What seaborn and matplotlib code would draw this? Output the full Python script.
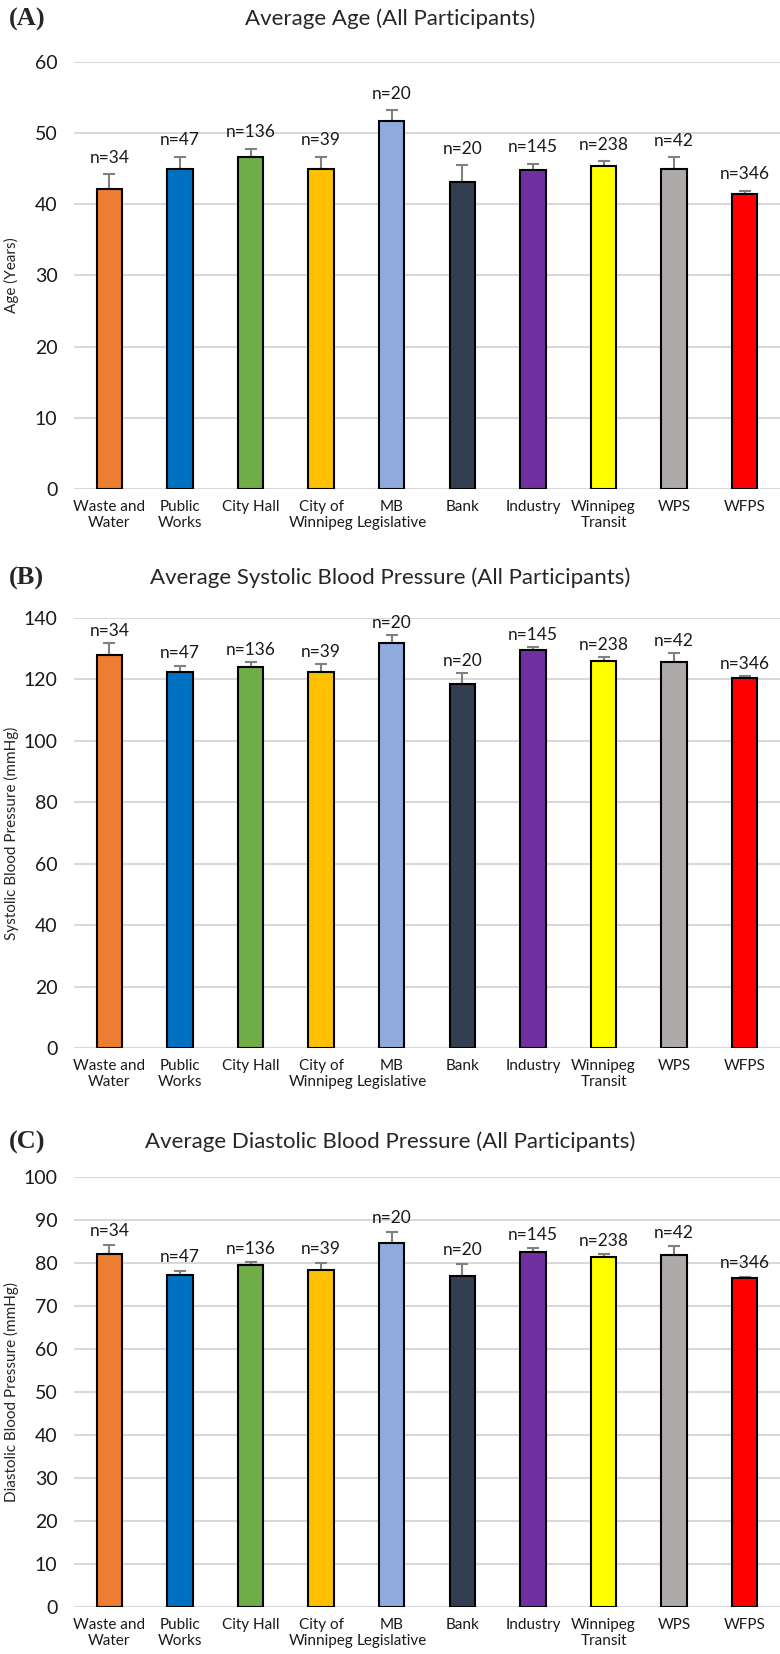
import numpy as np
import pandas as pd
import seaborn as sns
import matplotlib.pyplot as plt

sites = ['Waste and\nWater', 'Public\nWorks', 'City Hall', 'City of\nWinnipeg', 'MB\nLegislative',
         'Bank', 'Industry', 'Winnipeg\nTransit', 'WPS', 'WFPS']
n_counts = [34, 47, 136, 39, 20, 20, 145, 238, 42, 346]
colors = ['#ED7D31', '#0070C0', '#70AD47', '#FFC000', '#8FAADC',
          '#333F50', '#7030A0', '#FFFF00', '#AEAAAA', '#FF0000']

age = [42.2, 44.9, 46.7, 45.0, 51.7, 43.1, 44.8, 45.4, 45.0, 41.4]
age_err = [2.0, 1.8, 1.1, 1.7, 1.5, 2.4, 0.9, 0.7, 1.6, 0.5]

sbp = [128.0, 122.4, 123.9, 122.4, 131.7, 118.4, 129.4, 126.1, 125.5, 120.5]
sbp_err = [3.9, 2.1, 1.6, 2.5, 2.7, 3.7, 1.2, 1.2, 3.0, 0.7]

dbp = [82.0, 77.2, 79.5, 78.3, 84.6, 77.0, 82.6, 81.4, 81.8, 76.4]
dbp_err = [2.2, 1.0, 0.7, 1.7, 2.6, 2.8, 0.8, 0.6, 2.1, 0.4]

sns.set_style('white')
plt.rcParams['font.family'] = ['Lato', 'DejaVu Sans']

fig = plt.figure(figsize=(7.8, 16.54), dpi=100)

panels = [
    ('(A)', 'Average Age (All Participants)', 'Age (Years)', age, age_err, 60, 10,
     [0.095, 0.7044, 0.905, 0.2581], 0.9885, 6),
    ('(B)', 'Average Systolic Blood Pressure (All Participants)', 'Systolic Blood Pressure (mmHg)',
     sbp, sbp_err, 140, 20, [0.095, 0.3664, 0.905, 0.2600], 0.6505, 3),
    ('(C)', 'Average Diastolic Blood Pressure (All Participants)', 'Diastolic Blood Pressure (mmHg)',
     dbp, dbp_err, 100, 10, [0.095, 0.0284, 0.905, 0.2600], 0.3095, 4),
]

for tag, title, ylab, vals, errs, ymax, step, rect, ty, off in panels:
    ax = fig.add_axes(rect)
    df = pd.DataFrame({'site': sites, 'value': vals})
    sns.barplot(data=df, x='site', y='value', hue='site', palette=colors, legend=False,
                saturation=1, width=0.36, edgecolor='black', linewidth=1.5, ax=ax)
    xs = np.arange(len(sites))
    ax.errorbar(xs, vals, yerr=[np.zeros(len(vals)), errs], fmt='none', ecolor='#808080',
                elinewidth=1.5, capsize=4, capthick=1.5, zorder=0.8)
    for x, v, e, n in zip(xs, vals, errs, n_counts):
        ax.annotate(f'n={n}', (x, v + e), xytext=(0, off), textcoords='offset points',
                    ha='center', va='bottom', fontsize=12.5, color='#1a1a1a')
    ax.set_ylim(0, ymax)
    ax.set_yticks(np.arange(0, ymax + 1, step))
    ax.set_xlim(-0.5, len(sites) - 0.5)
    ax.yaxis.grid(True, color='#d9d9d9', linewidth=1.5)
    ax.set_axisbelow(True)
    for s in ax.spines.values():
        s.set_visible(False)
    ax.tick_params(axis='y', length=0, pad=12, labelsize=14, labelcolor='#1a1a1a')
    ax.tick_params(axis='x', length=0, pad=8, labelsize=11, labelcolor='#1a1a1a')
    ax.set_xlabel('')
    ax.set_ylabel(ylab, fontsize=11)
    ax.yaxis.set_label_coords(-0.078, 0.5)
    fig.text(0.5, ty, title, ha='center', va='center', fontsize=16)
    fig.text(0.012, ty, tag, ha='left', va='center', fontsize=19, fontweight='bold',
             family='Liberation Serif')

fig.savefig('out.png', dpi=100)
